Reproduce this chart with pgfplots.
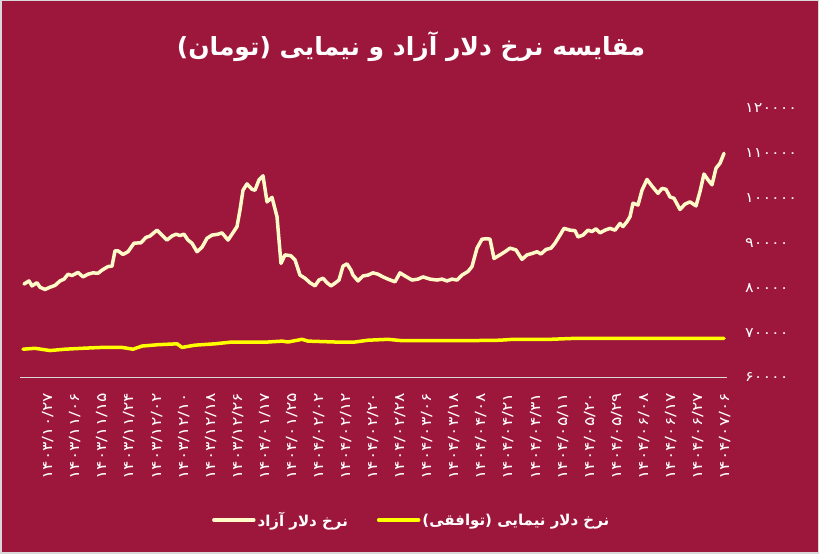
\documentclass[border=0pt]{standalone}
\usepackage{pgfplots}
\pgfplotsset{compat=1.18}
\usepackage{fontspec}
\newfontfamily\arabicfont[Script=Arabic]{DejaVu Sans}
\newfontfamily\arabicwide[Script=Arabic, FakeStretch=1.25]{DejaVu Sans}
\newfontfamily\arabicmid[Script=Arabic, FakeStretch=1.15]{DejaVu Sans}
\TeXXeTstate=1
\definecolor{bgcol}{RGB}{157,23,60}
\definecolor{cream}{RGB}{255,250,200}
\definecolor{nimayellow}{RGB}{255,255,0}
\definecolor{axgrey}{RGB}{217,217,217}
\begin{document}
\begin{tikzpicture}
\useasboundingbox (0pt,0pt) rectangle (819pt,554pt);
\fill[bgcol] (0pt,0pt) rectangle (819pt,554pt);
\draw[axgrey, line width=1.5pt] (0.75pt,0.75pt) rectangle (818.25pt,553.25pt);
\node[text=white, font=\arabicfont\bfseries\fontsize{25}{30}\selectfont] at (411pt,507pt) {\beginR مقایسه نرخ دلار آزاد و نیمایی (تومان)\endR};
\begin{axis}[
  at={(20pt,176.5pt)}, anchor=south west,
  scale only axis, width=707pt, height=269.5pt,
  xmin=20, xmax=727, ymin=60000, ymax=120000,
  axis x line*=bottom, axis y line*=right,
  x axis line style={draw=axgrey, line width=1.5pt, -},
  y axis line style={draw=none},
  major tick length=0pt, tick style={draw=none},
  scaled y ticks=false,
  ytick={60000,70000,80000,90000,100000,110000,120000},
  yticklabels={۶۰۰۰۰,۷۰۰۰۰,۸۰۰۰۰,۹۰۰۰۰,۱۰۰۰۰۰,۱۱۰۰۰۰,۱۲۰۰۰۰},
  yticklabel style={anchor=west, inner sep=0pt, text=white, font=\arabicmid\fontsize{14}{16}\selectfont},
  yticklabel shift=18pt,
  xtick={48.3,75.4,102.4,129.5,156.6,183.7,210.7,237.8,264.9,291.9,319.0,346.1,373.1,400.2,427.3,454.4,481.4,508.5,535.6,562.6,589.7,616.8,643.8,670.9,698.0,725.1},
  xticklabels={۱۴۰۳/۱۰/۲۷,۱۴۰۳/۱۱/۰۶,۱۴۰۳/۱۱/۱۵,۱۴۰۳/۱۱/۲۴,۱۴۰۳/۱۲/۰۲,۱۴۰۳/۱۲/۱۰,۱۴۰۳/۱۲/۱۸,۱۴۰۳/۱۲/۲۶,۱۴۰۴/۰۱/۱۷,۱۴۰۴/۰۱/۲۵,۱۴۰۴/۰۲/۰۲,۱۴۰۴/۰۲/۱۲,۱۴۰۴/۰۲/۲۰,۱۴۰۴/۰۲/۲۸,۱۴۰۴/۰۳/۰۶,۱۴۰۴/۰۳/۱۸,۱۴۰۴/۰۴/۰۸,۱۴۰۴/۰۴/۲۱,۱۴۰۴/۰۴/۳۱,۱۴۰۴/۰۵/۱۱,۱۴۰۴/۰۵/۲۰,۱۴۰۴/۰۵/۲۹,۱۴۰۴/۰۶/۰۸,۱۴۰۴/۰۶/۱۷,۱۴۰۴/۰۶/۲۷,۱۴۰۴/۰۷/۰۶},
  xticklabel style={rotate=90, anchor=east, inner sep=0pt, text=white, font=\arabicwide\fontsize{14}{16}\selectfont},
  xticklabel shift=15pt,
  legend columns=2,
  legend style={at={(0.554,-0.529)}, anchor=center, draw=none, fill=none, text=white,
    font=\arabicfont\bfseries\fontsize{15}{17}\selectfont,
    /tikz/every even column/.append style={column sep=27pt}},
  legend image code/.code={\draw[#1] (0pt,0pt) -- (40pt,0pt);},
]
\addplot[cream, line width=3.5pt, line join=round, line cap=round] coordinates {
(24,80800)(29,81500)(32,80400)(37,81100)(40,80100)(45,79600)(50,80100)(55,80500)(60,81500)(64,81900)
(68,83000)(72,82700)(78,83400)(83,82400)(88,83000)(93,83300)(98,83200)(102,83900)(108,84700)(112,84800)
(115,88200)(118,88200)(123,87400)(128,88000)(134,89900)(141,90000)(146,91200)(150,91500)(157,92800)(162,91700)
(167,90600)(172,91500)(176,91900)(180,91600)(184,91900)(188,90600)(192,89900)(197,88000)(202,89000)(207,91000)
(212,91700)(218,91900)(222,92200)(228,90600)(232,91900)(237,93600)(240,97300)(243,101700)(247,103100)(252,101900)
(255,101700)(259,104000)(263,104900)(267,99100)(272,100100)(277,95800)(279,90600)(281,85400)(285,87300)(291,87100)
(295,86200)(300,82800)(305,82100)(310,81100)(315,80400)(319,81700)(323,82100)(327,81100)(331,80400)(335,81000)
(339,81700)(343,84800)(347,85300)(351,83900)(353,82800)(358,81500)(363,82600)(368,82800)(373,83300)(378,83000)
(383,82400)(388,81900)(395,81300)(400,83300)(405,82600)(412,81700)(418,81900)(423,82400)(430,81900)(437,81700)
(442,81900)(447,81500)(452,81900)(457,81700)(462,82800)(468,83600)(472,84700)(477,88800)(482,90800)(487,90900)
(490,90800)(494,86500)(500,87300)(505,88000)(510,88800)(516,88400)(522,86300)(527,87300)(532,87600)(537,88000)
(541,87500)(546,88500)(551,88800)(555,89900)(560,91700)(564,93200)(570,92800)(575,92700)(578,91300)(583,91700)
(588,92800)(592,92500)(596,93100)(600,92200)(605,92800)(610,93200)(615,92800)(620,94300)(623,93600)(627,94700)
(630,95800)(633,98800)(638,98400)(642,101700)(647,104100)(652,102600)(658,101000)(662,102100)(666,101900)(670,100200)
(674,99900)(680,97400)(685,98600)(690,99100)(696,98200)(700,101400)(704,105300)(708,104000)(712,102900)(716,106600)
(720,107700)(724,109900)
};
\addlegendentry{\beginR نرخ دلار آزاد\endR}
\addplot[nimayellow, line width=3.5pt, line join=round, line cap=round] coordinates {
(23,66300)(35,66500)(50,66000)(65,66300)(82,66500)(102,66700)(122,66700)(133,66300)(142,67000)(158,67300)
(177,67500)(182,66700)(195,67200)(215,67500)(232,67900)(248,67900)(268,67900)(282,68100)(288,67900)(302,68500)
(308,68100)(335,67900)(355,67900)(368,68300)(388,68500)(402,68200)(420,68200)(467,68200)(500,68300)(513,68500)
(550,68500)(573,68700)(600,68700)(724,68700)
};
\addlegendentry{\beginR نرخ دلار نیمایی (توافقی)\endR}
\end{axis}
\end{tikzpicture}
\end{document}
